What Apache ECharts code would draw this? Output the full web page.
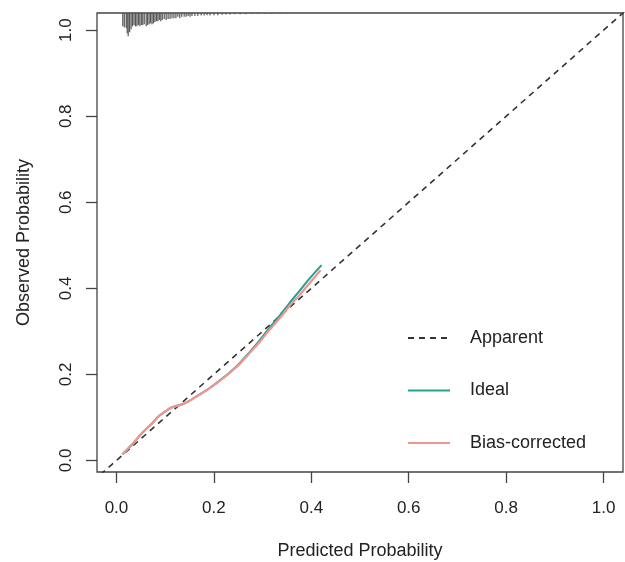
<!DOCTYPE html>
<html>
<head>
<meta charset="utf-8">
<script src="https://cdn.jsdelivr.net/npm/echarts@6/dist/echarts.min.js"></script>
<style>
  html, body { margin: 0; padding: 0; background: #fff; }
  #chart { width: 625px; height: 562px; }
</style>
</head>
<body>
<div id="chart"></div>
<script>
// Axis tick values
const tickValues = [0, 0.2, 0.4, 0.6, 0.8, 1.0];

// Reference diagonal (labelled "Apparent")
const apparentX = [-0.05, 1.05];
const apparentY = [-0.05, 1.05];

// Calibration curves
const idealX = [0.012, 0.032, 0.053, 0.074, 0.087, 0.098, 0.108, 0.118, 0.128, 0.139, 0.149, 0.169, 0.190, 0.210, 0.231, 0.252, 0.272, 0.293, 0.313, 0.334, 0.354, 0.375, 0.395, 0.421];
const idealY = [0.014, 0.037, 0.064, 0.087, 0.103, 0.112, 0.120, 0.125, 0.128, 0.132, 0.138, 0.152, 0.167, 0.184, 0.203, 0.225, 0.250, 0.278, 0.307, 0.335, 0.364, 0.393, 0.421, 0.454];
const biasX  = [0.012, 0.032, 0.053, 0.074, 0.087, 0.098, 0.108, 0.118, 0.128, 0.139, 0.149, 0.169, 0.190, 0.210, 0.231, 0.252, 0.272, 0.293, 0.313, 0.334, 0.354, 0.375, 0.395, 0.419];
const biasY  = [0.014, 0.037, 0.064, 0.087, 0.103, 0.112, 0.120, 0.125, 0.128, 0.132, 0.138, 0.152, 0.167, 0.183, 0.202, 0.223, 0.248, 0.274, 0.302, 0.329, 0.357, 0.383, 0.410, 0.442];

// Distribution of predicted probabilities: spike positions and spike heights
const rugX = [0.013, 0.016, 0.020, 0.022, 0.024, 0.027, 0.030, 0.033, 0.036, 0.039, 0.042, 0.045, 0.048, 0.051, 0.054, 0.057,
              0.061, 0.064, 0.067, 0.070, 0.073, 0.076, 0.079, 0.082, 0.085, 0.088, 0.091, 0.094, 0.098, 0.102, 0.106, 0.110,
              0.114, 0.118, 0.122, 0.126, 0.130, 0.134, 0.139, 0.143, 0.147, 0.151, 0.155, 0.161, 0.167, 0.174, 0.180, 0.186,
              0.192, 0.200, 0.208, 0.217, 0.225, 0.233, 0.243, 0.254, 0.266, 0.278, 0.291, 0.305, 0.319, 0.336];
const rugH = [0.031, 0.033, 0.035, 0.047, 0.054, 0.045, 0.038, 0.031, 0.028, 0.031, 0.031, 0.028, 0.031, 0.028, 0.028, 0.026,
              0.031, 0.028, 0.026, 0.024, 0.026, 0.024, 0.021, 0.019, 0.019, 0.016, 0.019, 0.016, 0.014, 0.016, 0.014, 0.014,
              0.012, 0.012, 0.012, 0.009, 0.012, 0.009, 0.009, 0.009, 0.007, 0.009, 0.007, 0.007, 0.007, 0.006, 0.006, 0.005,
              0.006, 0.005, 0.005, 0.004, 0.0035, 0.0035, 0.003, 0.003, 0.003, 0.0025, 0.0025, 0.0025, 0.002, 0.002];

const X_MIN = -0.04, X_MAX = 1.04;
const Y_MIN = -0.027, Y_MAX = 1.04;

const zip = (xs, ys) => xs.map((x, i) => [x, ys[i]]);
const FONT = 'Liberation Sans, Arial, sans-serif';
const INK = '#222';
const TEAL = '#26A091';
const SALMON = '#EE958F';

const chart = echarts.init(document.getElementById('chart'), null, { renderer: 'canvas' });

chart.setOption({
  animation: false,
  backgroundColor: '#fff',
  grid: {
    left: 97, top: 13, width: 526, height: 459,
    outerBoundsMode: 'none', containLabel: false,
    show: true, borderColor: '#444', borderWidth: 1.3, backgroundColor: 'transparent'
  },
  xAxis: {
    type: 'value', min: X_MIN, max: X_MAX,
    name: 'Predicted Probability', nameLocation: 'middle', nameGap: 70,
    nameTextStyle: { fontFamily: FONT, fontSize: 18, color: INK },
    axisLine: { show: false, onZero: false },
    splitLine: { show: false },
    axisTick: { show: true, inside: false, length: 11, customValues: tickValues,
                lineStyle: { color: '#444', width: 1.3 } },
    axisLabel: { customValues: tickValues, margin: 28, fontFamily: FONT, fontSize: 17, color: INK,
                 formatter: v => v.toFixed(1) }
  },
  yAxis: {
    type: 'value', min: Y_MIN, max: Y_MAX,
    name: 'Observed Probability', nameLocation: 'middle', nameGap: 64, nameRotate: 90,
    nameTextStyle: { fontFamily: FONT, fontSize: 18, color: INK },
    axisLine: { show: false, onZero: false },
    splitLine: { show: false },
    axisTick: { show: true, inside: false, length: 11, customValues: tickValues,
                lineStyle: { color: '#444', width: 1.3 } },
    axisLabel: { customValues: tickValues, margin: 22, rotate: 90, fontFamily: FONT, fontSize: 17, color: INK,
                 formatter: v => v.toFixed(1) }
  },
  legend: {
    data: ['Apparent', 'Ideal', 'Bias-corrected'],
    orient: 'vertical', left: 402, top: 323,
    itemWidth: 42, itemHeight: 14, itemGap: 32.5,
    itemStyle: { opacity: 0, color: 'transparent', borderWidth: 0 },
    textStyle: { fontFamily: FONT, fontSize: 18, color: INK, lineHeight: 20, padding: [0, 0, 0, 15] }
  },
  series: [
    {
      name: 'rug', type: 'custom', silent: true, clip: true,
      data: zip(rugX, rugH),
      renderItem: (params, api) => {
        const x = api.value(0), h = api.value(1);
        const p0 = api.coord([x, Y_MAX]);
        const p1 = api.coord([x, Y_MAX - h]);
        return {
          type: 'line',
          shape: { x1: p0[0], y1: p0[1], x2: p1[0], y2: p1[1] },
          style: { stroke: '#555', lineWidth: 1.2 }
        };
      }
    },
    {
      name: 'Apparent', type: 'line', data: zip(apparentX, apparentY), symbol: 'none', clip: true,
      lineStyle: { color: '#333', width: 1.6, type: [6, 5] }, itemStyle: { color: '#333' }
    },
    {
      name: 'Ideal', type: 'line', data: zip(idealX, idealY), symbol: 'none', smooth: 0.3, clip: true,
      lineStyle: { color: TEAL, width: 2 }, itemStyle: { color: TEAL }
    },
    {
      name: 'Bias-corrected', type: 'line', data: zip(biasX, biasY), symbol: 'none', smooth: 0.3, clip: true,
      lineStyle: { color: SALMON, width: 2.2 }, itemStyle: { color: SALMON }
    }
  ]
});
</script>
</body>
</html>
